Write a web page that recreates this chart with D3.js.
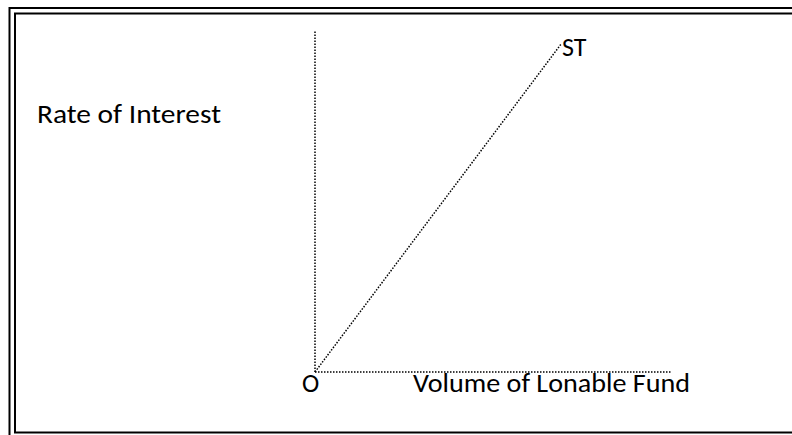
<!DOCTYPE html>
<html lang="en">
<head>
    <meta charset="UTF-8">
    <title>Supply of Loanable Funds</title>
    <script src="https://d3js.org/d3.v7.min.js"></script>
    <style>
        body{ margin: 0; background: white; }
        svg text{ font-family: Carlito, Calibri, Lato, sans-serif; fill: black; font-size: 26px; font-weight: 400; }
        .axis_line, .curve{ stroke: black; stroke-width: 1.5px; stroke-dasharray: 1.5,1.5; fill: none; }
        .frame{ fill: none; stroke: black; stroke-width: 2px; }
    </style>
</head>
<body>
    <svg id="canvas" width="792" height="435"></svg>
    <script>
        // axis extents in chart units
        let xAxisPts = [[0, 0], [100, 0]];
        let yAxisPts = [[0, 0], [0, 100]];
        // supply curve ST
        let stPts = [[0, 0], [69, 96]];
        let labels = ['Rate of Interest', 'O', 'Volume of Lonable Fund', 'ST'];

        let svg = d3.select('svg');

        // double frame round the picture
        svg.append('rect').attr('class', 'frame')
            .attr('x', 9.5).attr('y', 8).attr('width', 800).attr('height', 440);
        svg.append('rect').attr('class', 'frame')
            .attr('x', 15).attr('y', 13.5).attr('width', 800).attr('height', 419);

        let x = d3.scaleLinear().domain([0, 100]).range([315, 672]);
        let y = d3.scaleLinear().domain([0, 100]).range([372, 30]);
        let line = d3.line().x(d => x(d[0])).y(d => y(d[1]));

        svg.append('path').attr('class', 'axis_line').attr('d', line(xAxisPts));
        svg.append('path').attr('class', 'axis_line').attr('d', line(yAxisPts));
        svg.append('path').attr('class', 'curve').attr('d', line(stPts));

        // labels; the long ones are fitted to the widths seen in the picture
        function label(txt, lx, ly, w){
            let t = svg.append('text').attr('x', lx).attr('y', ly).text(txt);
            if(w) t.attr('textLength', w).attr('lengthAdjust', 'spacingAndGlyphs');
        }
        label(labels[0], 37, 123, 184);
        label(labels[1], 302, 392);
        label(labels[2], 413, 392, 277);
        label(labels[3], 562, 56);
    </script>
</body>
</html>
